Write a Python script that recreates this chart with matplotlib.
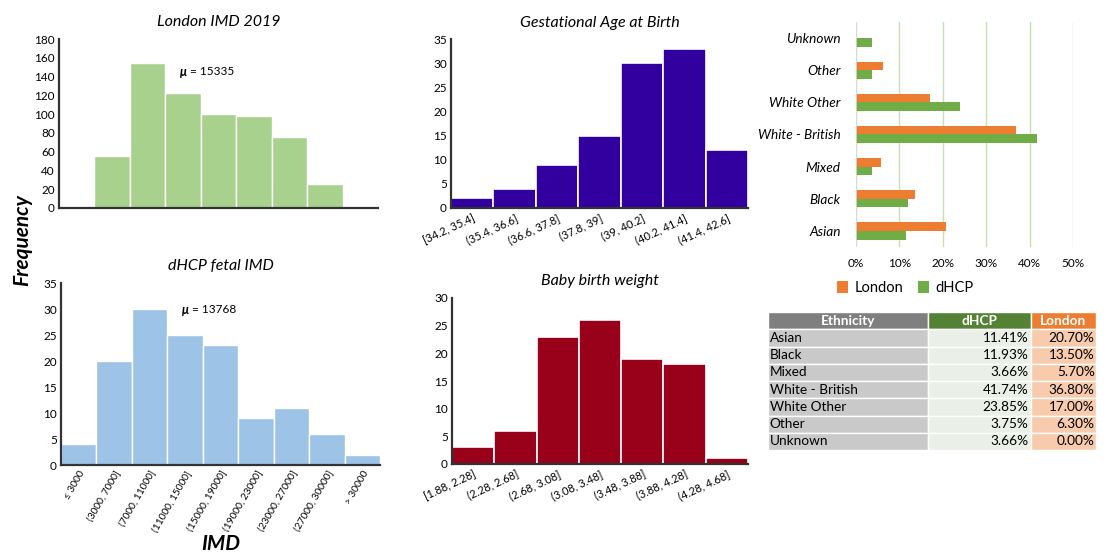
import matplotlib.pyplot as plt
import numpy as np

plt.rcParams['font.family'] = ['Lato', 'DejaVu Sans']

# data
london_imd = [55, 154, 122, 100, 98, 76, 26]
fetal_imd_labels = ['≤ 3000', '(3000, 7000]', '(7000, 11000]', '(11000, 15000]', '(15000, 19000]',
                    '(19000, 23000]', '(23000, 27000]', '(27000, 30000]', '> 30000']
fetal_imd = [4, 20, 30, 25, 23, 9, 11, 6, 2]
ga_labels = ['[34.2, 35.4]', '(35.4, 36.6]', '(36.6, 37.8]', '(37.8, 39]', '(39, 40.2]',
             '(40.2, 41.4]', '(41.4, 42.6]']
ga_counts = [2, 4, 9, 15, 30, 33, 12]
bw_labels = ['[1.88, 2.28]', '(2.28, 2.68]', '(2.68, 3.08]', '(3.08, 3.48]', '(3.48, 3.88]',
             '(3.88, 4.28]', '(4.28, 4.68]']
bw_counts = [3, 6, 23, 26, 19, 18, 1]
ethnicity = ['Asian', 'Black', 'Mixed', 'White - British', 'White Other', 'Other', 'Unknown']
dhcp_pct = [11.41, 11.93, 3.66, 41.74, 23.85, 3.75, 3.66]
london_pct = [20.70, 13.50, 5.70, 36.80, 17.00, 6.30, 0.00]

W, H = 1106, 557
fig = plt.figure(figsize=(W / 100, H / 100), dpi=100)


def box(x0, y0, x1, y1):
    # pixel box -> figure fraction
    return [x0 / W, 1 - y1 / H, (x1 - x0) / W, (y1 - y0) / H]


def hist_style(ax):
    for s in ['top', 'right']:
        ax.spines[s].set_visible(False)
    for s in ['left', 'bottom']:
        ax.spines[s].set_linewidth(1.6)
        ax.spines[s].set_color('#333333')
    ax.tick_params(length=0, labelsize=8.5, pad=3)


title_kw = dict(fontsize=11.5, style='italic', pad=9)

# London IMD 2019
ax1 = fig.add_axes(box(59, 39, 378, 208))
ax1.bar(np.arange(1, len(london_imd) + 1), london_imd, width=1.0, color='#A9D18E',
        edgecolor='white', linewidth=1)
ax1.set_xlim(-0.5, len(london_imd) + 1.5)
ax1.set_ylim(0, 180)
ax1.set_yticks(range(0, 181, 20))
ax1.set_xticks([])
hist_style(ax1)
ax1.set_title('London IMD 2019', **title_kw)
ax1.text(0.38, 0.805, 'μ', transform=ax1.transAxes, fontsize=9, weight='bold', style='italic',
         va='center')
ax1.text(0.41, 0.805, '= 15335', transform=ax1.transAxes, fontsize=8.5, va='center')

# dHCP fetal IMD
ax2 = fig.add_axes(box(61, 283, 380, 465))
x2 = np.arange(len(fetal_imd))
ax2.bar(x2, fetal_imd, width=1.0, color='#9DC3E6', edgecolor='white', linewidth=1)
ax2.set_xlim(-0.5, len(fetal_imd) - 0.5)
ax2.set_ylim(0, 35)
ax2.set_yticks(range(0, 36, 5))
ax2.set_xticks(x2)
ax2.set_xticklabels(fetal_imd_labels, rotation=60, ha='right', rotation_mode='anchor')
hist_style(ax2)
ax2.tick_params(axis='x', labelsize=7.3)
ax2.set_title('dHCP fetal IMD', **title_kw)
ax2.text(0.38, 0.852, 'μ', transform=ax2.transAxes, fontsize=9, weight='bold', style='italic',
         va='center')
ax2.text(0.41, 0.852, '= 13768', transform=ax2.transAxes, fontsize=8.5, va='center')
ax2.set_xlabel('IMD', fontsize=15, weight='bold', style='italic', labelpad=0)

fig.text(22 / W, 1 - 240 / H, 'Frequency', rotation=90, fontsize=15, weight='bold',
         style='italic', ha='center', va='center')

# Gestational age
ax3 = fig.add_axes(box(451, 39, 748, 208))
x3 = np.arange(len(ga_counts))
ax3.bar(x3, ga_counts, width=1.0, color='#3300A0', edgecolor='white', linewidth=1.2)
ax3.set_xlim(-0.5, len(ga_counts) - 0.5)
ax3.set_ylim(0, 35)
ax3.set_yticks(range(0, 36, 5))
ax3.set_xticks(x3)
ax3.set_xticklabels(ga_labels, rotation=25, ha='right', rotation_mode='anchor')
hist_style(ax3)
ax3.tick_params(axis='x', labelsize=8)
ax3.set_title('Gestational Age at Birth', **title_kw)

# Baby birth weight
ax4 = fig.add_axes(box(452, 298, 748, 464))
x4 = np.arange(len(bw_counts))
ax4.bar(x4, bw_counts, width=1.0, color='#990019', edgecolor='white', linewidth=1.2)
ax4.set_xlim(-0.5, len(bw_counts) - 0.5)
ax4.set_ylim(0, 30)
ax4.set_yticks(range(0, 31, 5))
ax4.set_xticks(x4)
ax4.set_xticklabels(bw_labels, rotation=25, ha='right', rotation_mode='anchor')
hist_style(ax4)
ax4.tick_params(axis='x', labelsize=8)
ax4.set_title('Baby birth weight', **title_kw)

# Ethnicity bars
ax5 = fig.add_axes(box(856, 22, 1073, 247))
y5 = np.arange(len(ethnicity))
bh = 0.27
ax5.barh(y5 + bh / 2, np.array(london_pct) / 100, height=bh, color='#ED7D31', label='London')
ax5.barh(y5 - bh / 2, np.array(dhcp_pct) / 100, height=bh, color='#70AD47', label='dHCP')
ax5.set_xlim(0, 0.5)
ax5.set_ylim(-0.5, len(ethnicity) - 0.5)
ax5.set_xticks(np.arange(0, 0.51, 0.1))
ax5.set_xticklabels([f'{int(round(v * 100))}%' for v in np.arange(0, 0.51, 0.1)])
ax5.set_yticks(y5)
ax5.set_yticklabels(ethnicity, style='italic')
for s in ax5.spines.values():
    s.set_visible(False)
ax5.grid(axis='x', color='#C5E0B4', linewidth=1)
ax5.axvline(0, color='#D9D9D9', linewidth=1.2)
ax5.set_axisbelow(True)
ax5.tick_params(length=0, labelsize=8.5, pad=8)
ax5.tick_params(axis='y', labelsize=9.8, pad=11)
fig.legend(*ax5.get_legend_handles_labels(), loc='center', bbox_to_anchor=(905 / W, 1 - 288 / H),
           ncol=2, frameon=False, fontsize=10.5, handlelength=0.8, handleheight=0.8,
           columnspacing=1.0, handletextpad=0.4)

# Ethnicity table
ax6 = fig.add_axes(box(768, 312, 1096, 450))
ax6.axis('off')
cells = [[e, f'{d:.2f}%', f'{l:.2f}%'] for e, d, l in zip(ethnicity, dhcp_pct, london_pct)]
colours = [['#C9C9C9', '#EAF0E7', '#F8CBAD'] for _ in cells]
tab = ax6.table(cellText=cells, colLabels=['Ethnicity', 'dHCP', 'London'], cellColours=colours,
                colColours=['#7F7F7F', '#548235', '#ED7D31'], colWidths=[159, 102, 65],
                bbox=[0, 0, 1, 1])
tab.auto_set_font_size(False)
for (r, c), cell in tab.get_celld().items():
    cell.set_edgecolor('white')
    cell.set_linewidth(1)
    txt = cell.get_text()
    txt.set_fontsize(9.8)
    if r == 0:
        txt.set_color('white')
        txt.set_weight('bold')
        txt.set_ha('center')
    elif c == 0:
        txt.set_ha('left')
        cell.PAD = 0.01
    else:
        txt.set_ha('right')
        cell.PAD = 0.02

fig.savefig('out.png', dpi=100)
